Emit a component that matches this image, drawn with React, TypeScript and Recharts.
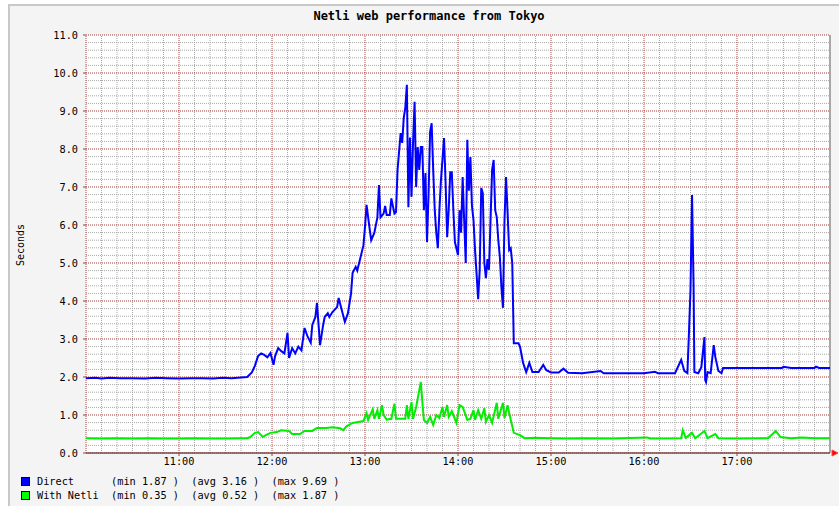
import { LineChart, Line, XAxis, YAxis, ReferenceLine, ReferenceArea, ReferenceDot } from 'recharts'

// minutes after 10:00
const directTime = [
  0, 6, 10, 15, 22, 30, 38, 45, 52, 60, 68, 75, 82, 88, 94, 100, 104, 107, 109, 111,
  113, 115, 117, 119, 121, 122, 124, 126, 128, 130, 131, 133, 135, 137, 139, 141, 143, 145, 146, 148,
  149, 151, 153, 154, 156, 157, 159, 162, 163, 165, 167, 169, 171, 172, 174, 175, 177, 179, 180, 181,
  183, 184, 186, 188, 189, 190, 192, 193, 194, 196, 197, 199, 200, 201, 203, 204, 205, 206, 207, 208,
  209, 210, 211, 212, 213, 214, 215, 216, 217, 218, 219, 220, 221, 222, 223, 224, 225, 226, 227, 228,
  229, 231, 232, 233, 234, 235, 236, 237, 238, 240, 241, 242, 243, 244, 245, 246, 247, 248, 249, 250,
  251, 252, 253, 254, 255, 256, 257, 258, 259, 260, 262, 263, 264, 265, 266, 267, 268, 269, 270, 271,
  272, 273, 274, 275, 276, 279, 280, 282, 284, 286, 288, 292, 295, 297, 300, 305, 308, 311, 320, 332,
  334, 345, 360, 367, 369, 380, 384, 386, 388, 389, 390, 391, 392, 392.5, 395, 397, 399, 399.5, 400, 401,
  403, 405, 406, 408, 410, 411, 430, 449, 450, 455, 470, 471, 473, 480,
]
const directSeconds = [
  1.97, 1.98, 1.96, 1.98, 1.97, 1.97, 1.96, 1.98, 1.97, 1.96, 1.97, 1.97, 1.96, 1.98, 1.97, 1.99, 2.0, 2.12, 2.3, 2.55,
  2.62, 2.58, 2.52, 2.63, 2.32, 2.55, 2.76, 2.68, 2.62, 3.16, 2.5, 2.76, 2.62, 2.8, 2.7, 3.29, 3.06, 2.9, 3.37, 3.58,
  3.95, 2.84, 3.37, 3.58, 3.68, 3.58, 3.71, 3.84, 4.08, 3.76, 3.45, 3.68, 4.2, 4.74, 4.9, 4.8, 5.13, 5.47, 5.95, 6.53,
  5.9, 5.6, 5.79, 6.2, 7.05, 6.2, 6.3, 6.5, 6.26, 6.26, 6.7, 6.3, 6.34, 7.45, 8.42, 8.16, 8.82, 9.08, 9.69, 6.47,
  8.3, 6.74, 8.18, 9.24, 7.0, 8.05, 7.45, 8.05, 8.05, 6.39, 7.37, 5.55, 6.79, 8.45, 8.68, 7.45, 6.39, 5.79, 5.39, 6.39,
  7.18, 8.29, 7.1, 5.68, 6.39, 7.39, 7.39, 6.39, 5.55, 5.21, 6.39, 5.8, 7.26, 6.1, 5.0, 8.24, 6.9, 7.79, 6.5, 6.13,
  5.34, 4.7, 4.05, 4.82, 6.97, 6.84, 5.0, 4.6, 5.1, 4.82, 7.45, 7.71, 6.39, 6.21, 5.6, 5.16, 4.37, 3.82, 6.13, 7.26,
  6.32, 5.34, 5.39, 5.0, 2.89, 2.89, 2.8, 2.37, 2.13, 2.37, 2.13, 2.13, 2.32, 2.18, 2.12, 2.12, 2.22, 2.11, 2.1, 2.16,
  2.1, 2.1, 2.1, 2.14, 2.1, 2.1, 2.45, 2.16, 2.1, 3.16, 4.3, 6.79, 4.37, 2.13, 2.1, 2.26, 3.05, 1.92, 1.87, 2.13,
  2.1, 2.84, 2.53, 2.16, 2.1, 2.24, 2.24, 2.24, 2.27, 2.24, 2.24, 2.27, 2.24, 2.24,
]

const netliTime = [
  0, 10, 20, 30, 40, 50, 60, 70, 80, 90, 100, 104, 106, 109, 111, 113, 114, 116, 119, 123,
  126, 131, 133, 138, 141, 146, 149, 155, 159, 164, 166, 168, 172, 179, 181, 182, 185, 186, 188, 189,
  191, 192, 194, 197, 199, 200, 206, 207, 208, 210, 211, 213, 216, 217, 218, 220, 222, 224, 226, 228,
  230, 231, 233, 234, 236, 239, 241, 243, 246, 248, 250, 251, 253, 255, 257, 258, 260, 262, 265, 266,
  269, 270, 272, 273, 276, 280, 283, 290, 300, 310, 320, 340, 362, 364, 384, 385, 387, 391, 393, 399,
  401, 406, 408, 420, 440, 445, 448, 455, 462, 470, 480,
]
const netliSeconds = [
  0.39, 0.38, 0.39, 0.38, 0.39, 0.38, 0.38, 0.39, 0.38, 0.38, 0.39, 0.39, 0.42, 0.53, 0.55, 0.47, 0.42, 0.47, 0.53, 0.55,
  0.6, 0.58, 0.5, 0.5, 0.58, 0.58, 0.66, 0.66, 0.68, 0.65, 0.6, 0.7, 0.79, 0.84, 1.05, 0.87, 1.15, 0.9, 1.13, 0.9,
  1.26, 1.0, 0.88, 0.9, 1.3, 0.9, 0.9, 1.26, 0.9, 1.34, 0.9, 1.21, 1.87, 1.34, 0.87, 0.79, 0.95, 0.74, 1.0, 0.92,
  1.21, 0.95, 1.26, 0.95, 1.1, 0.79, 1.26, 1.21, 0.87, 0.9, 1.13, 0.87, 1.13, 0.9, 1.18, 0.82, 1.0, 0.79, 1.32, 0.9,
  1.32, 0.92, 1.26, 1.05, 0.53, 0.47, 0.39, 0.4, 0.39, 0.38, 0.39, 0.38, 0.41, 0.38, 0.39, 0.6, 0.4, 0.53, 0.39, 0.58,
  0.39, 0.5, 0.39, 0.38, 0.39, 0.58, 0.42, 0.39, 0.41, 0.39, 0.39,
]

const hourTicks = [60, 120, 180, 240, 300, 360, 420]
const hourLabels = ['11:00', '12:00', '13:00', '14:00', '15:00', '16:00', '17:00']
const secondTicks = [0, 1, 2, 3, 4, 5, 6, 7, 8, 9, 10, 11]

const legendRows = [
  { name: 'Direct', color: '#0000ff', min: '1.87', avg: '3.16', max: '9.69' },
  { name: 'With Netli', color: '#00ff00', min: '0.35', avg: '0.52', max: '1.87' },
]

const directData = directTime.map((t, i) => ({ t, v: directSeconds[i] }))
const netliData = netliTime.map((t, i) => ({ t, v: netliSeconds[i] }))

const majorX: number[] = []
const minorX: number[] = []
for (let m = 0; m <= 480; m += 10) (m % 60 === 0 ? majorX : minorX).push(m)
const minorY: number[] = []
for (let k = 1; k < 55; k++) if (k % 5 !== 0) minorY.push(k / 5)

const mono = '"DejaVu Sans Mono", "Liberation Mono", monospace'

const Arrow = (props: any) => {
  const { cx, cy } = props
  return <polygon points={`${cx + 2},${cy - 3} ${cx + 8},${cy} ${cx + 2},${cy + 3}`} fill="#ff0000" stroke="#ff4040" />
}

export default function App() {
  return (
    <div style={{ position: 'relative', width: 839, height: 506, background: '#ffffff', overflow: 'hidden' }}>
      <style>{'body{margin:0}'}</style>
      <div style={{ position: 'absolute', left: 8, top: 4, right: 0, bottom: 0, background: '#f4f4f4', borderTop: '2px solid #c8c8c8', borderLeft: '2px solid #c8c8c8' }} />
      <div style={{ position: 'absolute', left: 0, top: 9, width: 858, textAlign: 'center', fontFamily: mono, fontSize: 12, fontWeight: 'bold', color: '#000' }}>
        Netli web performance from Tokyo
      </div>
      <div style={{ position: 'absolute', left: 20, top: 245, transform: 'translate(-50%, -50%) rotate(-90deg)', fontFamily: mono, fontSize: 10, color: '#000', whiteSpace: 'nowrap' }}>
        Seconds
      </div>
      <div style={{ position: 'absolute', left: 0, top: 0 }}>
        <LineChart width={839} height={506} margin={{ top: 35, right: 9, bottom: 33, left: 26 }}>
          <XAxis
            type="number"
            dataKey="t"
            domain={[0, 480]}
            ticks={hourTicks}
            tickFormatter={(v: number) => hourLabels[hourTicks.indexOf(v)]}
            allowDataOverflow
            height={20}
            tick={{ fontSize: 10.25, fontFamily: mono, fill: '#000' }}
            tickSize={3}
            tickMargin={2}
            axisLine={{ stroke: '#7a5050', strokeWidth: 1.5 }}
            tickLine={{ stroke: '#a04040' }}
          />
          <YAxis
            type="number"
            domain={[0, 11]}
            ticks={secondTicks}
            tickFormatter={(v: number) => v.toFixed(1)}
            allowDataOverflow
            width={60}
            tick={{ fontSize: 10.25, fontFamily: mono, fill: '#000' }}
            tickSize={3}
            tickMargin={5}
            axisLine={false}
            tickLine={{ stroke: '#a04040' }}
          />
          <ReferenceArea x1={0} x2={480} y1={0} y2={11} fill="#ffffff" fillOpacity={1} stroke="none" />
          {minorX.map((m) => (
            <ReferenceLine key={`mx${m}`} x={m} stroke="#a8a8a8" strokeDasharray="1 1" />
          ))}
          {minorY.map((s) => (
            <ReferenceLine key={`my${s}`} y={s} stroke="#a8a8a8" strokeDasharray="1 1" />
          ))}
          {majorX.map((m) => (
            <ReferenceLine key={`Mx${m}`} x={m} stroke="#b04848" strokeDasharray="1 1" />
          ))}
          {secondTicks.map((s) => (
            <ReferenceLine key={`My${s}`} y={s} stroke="#a33a3a" strokeDasharray="1 1" />
          ))}
          <ReferenceLine x={480} stroke="#a8a8a8" strokeWidth={2} />
          <Line data={directData} dataKey="v" type="linear" stroke="#0000ff" strokeWidth={2} dot={false} activeDot={false} isAnimationActive={false} />
          <Line data={netliData} dataKey="v" type="linear" stroke="#00ee00" strokeWidth={2} dot={false} activeDot={false} isAnimationActive={false} />
          <ReferenceDot x={480} y={0} r={3} shape={<Arrow />} ifOverflow="visible" />
        </LineChart>
      </div>
      {legendRows.map((row, i) => (
        <div key={row.name} style={{ position: 'absolute', left: 21, top: 474 + i * 14, height: 14, display: 'flex', alignItems: 'center', fontFamily: mono, fontSize: 10.25, color: '#000', whiteSpace: 'pre' }}>
          <span style={{ display: 'inline-block', width: 7, height: 7, background: row.color, border: '1px solid #000', marginRight: 7 }} />
          <span>{`${row.name.padEnd(12, ' ')}(min ${row.min} )  (avg ${row.avg} )  (max ${row.max} )`}</span>
        </div>
      ))}
    </div>
  )
}
